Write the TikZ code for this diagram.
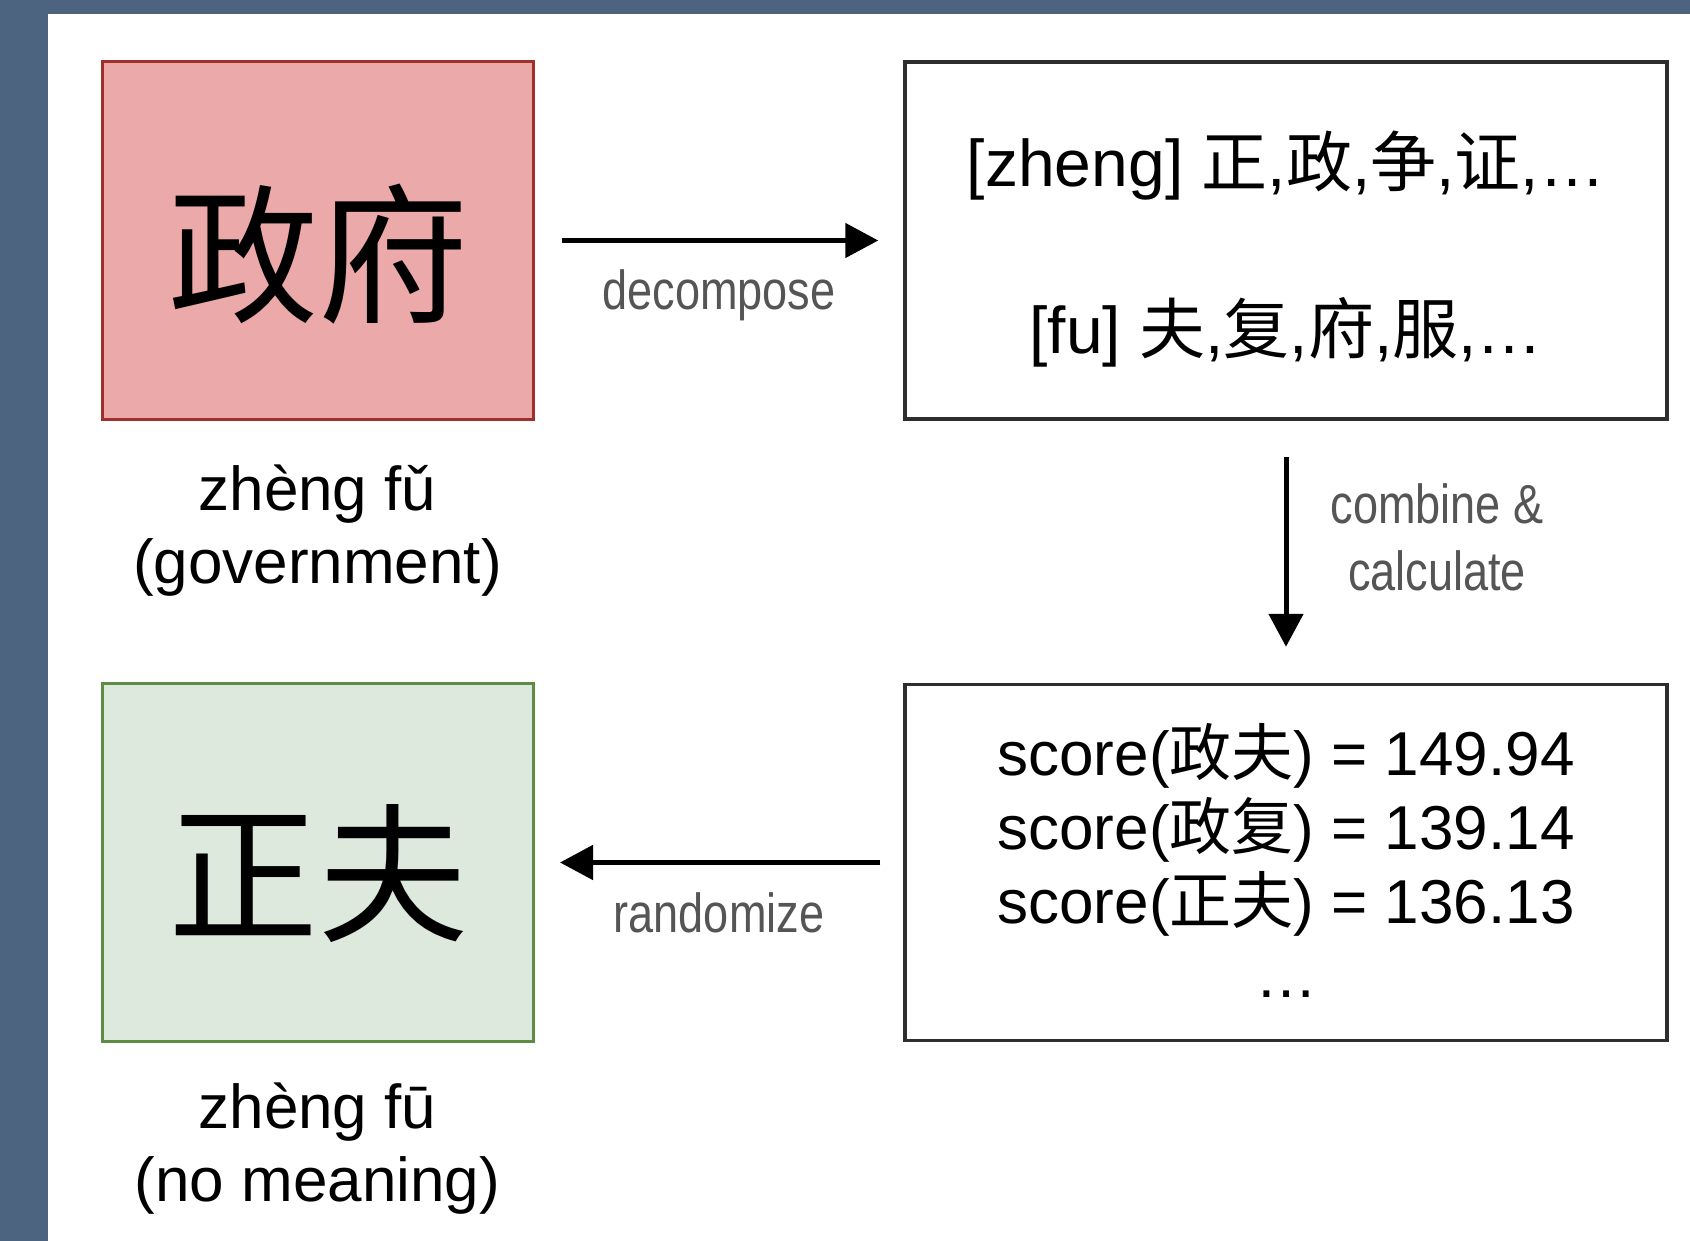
\documentclass[tikz,border=0pt]{standalone}
\usepackage{fontspec}
\setmainfont{Liberation Sans}
\newfontfamily\cjk{Noto Sans CJK SC}
\newfontfamily\narrowsf[FakeStretch=0.82]{Liberation Sans}
\usetikzlibrary{arrows.meta}
\definecolor{framebg}{HTML}{4D6480}
\definecolor{redfill}{HTML}{EBA9A9}
\definecolor{reddraw}{HTML}{A0302C}
\definecolor{greenfill}{HTML}{DCE9DC}
\definecolor{greendraw}{HTML}{5E8C45}
\definecolor{boxdraw}{HTML}{2E2E2E}
\definecolor{labelgray}{HTML}{555555}
\begin{document}
\begin{tikzpicture}[x=1pt,y=-1pt,
  wordbox/.style={rectangle, line width=3pt, minimum width=431pt, minimum height=358pt, inner sep=0pt},
  listbox/.style={rectangle, draw=boxdraw, line width=3.5pt, minimum width=762pt, minimum height=357pt, inner sep=0pt},
  bigcjk/.style={inner sep=0pt, anchor=base, font=\cjk\fontsize{150}{150}\selectfont},
  caption/.style={inner sep=0pt, anchor=base, align=center, font=\fontsize{62}{73}\selectfont},
  listtext/.style={inner sep=0pt, anchor=base, font=\fontsize{66}{80}\selectfont},
  scoretext/.style={inner sep=0pt, anchor=base, align=center, font=\fontsize{62}{74}\selectfont},
  steplabel/.style={inner sep=0pt, anchor=base, align=center, text=labelgray, font=\narrowsf\fontsize{55}{67}\selectfont},
  arr/.style={line width=5pt, -{Triangle[length=33pt,width=34pt]}},
]
% background frame
\fill[framebg] (0,0) rectangle (1690,1241);
\fill[white] (48,14) rectangle (1690,1241);
\useasboundingbox (0,0) rectangle (1690,1241);

% boxes
\node[wordbox, draw=reddraw, fill=redfill] (orig) at (317.5,240.5) {};
\node[wordbox, draw=greendraw, fill=greenfill] (result) at (317.5,862.5) {};
\node[listbox] (cands) at (1286,240.5) {};
\node[listbox, minimum height=356pt] (scores) at (1286,862.5) {};

% box texts (multi-line nodes: base anchor = baseline of last line)
\node[bigcjk] (origtxt) at (318,312) {政府};
\node[bigcjk] (resulttxt) at (318,930) {正夫};
\node[caption] (origcap) at (317.5,583) {zhèng fǔ\\(government)};
\node[caption] (resultcap) at (317.5,1201) {zhèng fū\\(no meaning)};
\node[listtext] (zhengline) at (1286,187) {[zheng] {\cjk 正},{\cjk 政},{\cjk 争},{\cjk 证},…};
\node[listtext] (fuline) at (1286,354) {[fu] {\cjk 夫},{\cjk 复},{\cjk 府},{\cjk 服},…};
\node[scoretext] (scorelines) at (1286,997) {score({\cjk 政夫}) = 149.94\\score({\cjk 政复}) = 139.14\\score({\cjk 正夫}) = 136.13\\…};

% connectors
\draw[arr, shorten <=27.5pt, shorten >=25pt] (orig) -- (cands);
\draw[arr, shorten <=36pt, shorten >=36pt] (cands) -- (scores);
\draw[arr, shorten <=23pt, shorten >=25.5pt] (scores) -- (result);

% connector labels
\node[steplabel] (declabel) at (719,310) {decompose};
\node[steplabel] (comblabel) at (1437,590) {combine \&\\calculate};
\node[steplabel] (randlabel) at (719,932) {randomize};
\end{tikzpicture}
\end{document}
